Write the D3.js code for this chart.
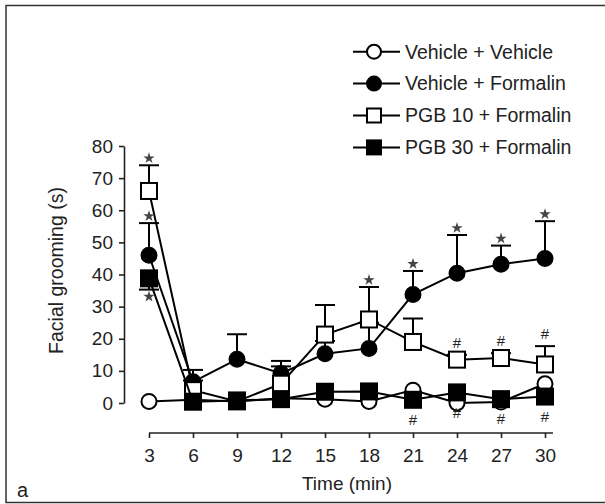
<!DOCTYPE html>
<html>
<head>
<meta charset="utf-8">
<script src="https://cdn.jsdelivr.net/npm/d3@7"></script>
<style>
  body { margin: 0; background: #fff; }
  text { font-family: "Liberation Sans", Arial, sans-serif; fill: #222; }
</style>
</head>
<body>
<div id="chart"></div>
<script>
// time points (min)
const times = [3, 6, 9, 12, 15, 18, 21, 24, 27, 30];
const yTicks = [0, 10, 20, 30, 40, 50, 60, 70, 80];

// mean facial grooming (s)
const vehVeh = [0.5, 1, 0.5, 1.5, 1.2, 0.5, 4, 0, 0.3, 6];
const vehForm = [46, 6.6, 13.6, 9.2, 15.3, 17, 33.8, 40.4, 43.2, 45];
const pgb10 = [66, 4, 0.5, 6, 21.3, 26, 19, 13.5, 14, 12];
const pgb30 = [38.8, 0.4, 0.8, 1.2, 3.5, 3.6, 1, 3.3, 1.2, 2];

// SEM
const vehVehErr = [0, 0, 0, 0, 0, 0, 0, 0, 0, 0];
const vehFormErr = [10, 3.7, 7.8, 3.9, 4, 8, 7.3, 11.9, 5.8, 11.6];
const pgb10Err = [8, 3, 0, 5.4, 9.2, 10.1, 7.3, 1.5, 1.5, 5.7];
const pgb30Err = [3.5, 0, 0, 0, 0, 0, 0, 0, 0, 0];

const legendLabels = ["Vehicle + Vehicle", "Vehicle + Formalin", "PGB 10 + Formalin", "PGB 30 + Formalin"];

// significance marks: [series index, time]
const starMarks = [[1, 3], [2, 3], [3, 3], [2, 18], [1, 21], [1, 24], [1, 27], [1, 30]];
const hashMarks = [[2, 24], [2, 27], [2, 30], [3, 21], [3, 24], [3, 27], [3, 30]];

const series = [
  { name: legendLabels[0], values: vehVeh, err: vehVehErr, shape: "circle", fill: "#fff", dir: 1 },
  { name: legendLabels[1], values: vehForm, err: vehFormErr, shape: "circle", fill: "#000", dir: 1 },
  { name: legendLabels[2], values: pgb10, err: pgb10Err, shape: "square", fill: "#fff", dir: 1 },
  { name: legendLabels[3], values: pgb30, err: pgb30Err, shape: "square", fill: "#000", dir: -1 }
];

const width = 605, height = 504;

const svg = d3.select("#chart").append("svg")
    .attr("width", width)
    .attr("height", height);

// frame
svg.append("rect")
    .attr("x", 6).attr("y", 5.5)
    .attr("width", 620).attr("height", 497)
    .attr("fill", "none")
    .attr("stroke", "#333")
    .attr("stroke-width", 1.5);

const x = d3.scaleLinear().domain([3, 30]).range([149, 545]);
const y = d3.scaleLinear().domain([0, 80]).range([403, 146]);

// y axis
const yAxis = svg.append("g")
    .attr("transform", "translate(124,0)")
    .call(d3.axisLeft(y).tickValues(yTicks).tickSize(5).tickSizeOuter(0).tickPadding(6));
yAxis.selectAll("text").style("font-size", "19px").attr("fill", "#222");
yAxis.selectAll("line, path").attr("stroke", "#222").attr("stroke-width", 1.6);

// x axis (line runs a bit past the last tick)
const xAxis = svg.append("g")
    .attr("transform", "translate(0,433)")
    .call(d3.axisBottom(x).tickValues(times).tickSize(5).tickSizeOuter(0).tickPadding(11));
xAxis.select(".domain").remove();
xAxis.append("line")
    .attr("x1", x(3)).attr("x2", x(30) + 8)
    .attr("stroke", "#222").attr("stroke-width", 1.6);
xAxis.selectAll("text").style("font-size", "19px").attr("fill", "#222");
xAxis.selectAll("line").attr("stroke", "#222").attr("stroke-width", 1.6);

svg.append("text")
    .attr("x", x(16.5)).attr("y", 490)
    .attr("text-anchor", "middle")
    .style("font-size", "19px")
    .text("Time (min)");

svg.append("text")
    .attr("transform", "translate(63," + (y(40) - 4) + ") rotate(-90)")
    .attr("text-anchor", "middle")
    .style("font-size", "19.5px")
    .text("Facial grooming (s)");

svg.append("text")
    .attr("x", 17).attr("y", 497)
    .style("font-size", "20px")
    .text("a");

function drawMarker(g, s, cx, cy, size) {
  if (s.shape === "circle") {
    g.append("circle")
        .attr("cx", cx).attr("cy", cy).attr("r", size / 2)
        .attr("fill", s.fill).attr("stroke", "#000").attr("stroke-width", 2);
  } else {
    g.append("rect")
        .attr("x", cx - size / 2).attr("y", cy - size / 2)
        .attr("width", size).attr("height", size)
        .attr("fill", s.fill).attr("stroke", "#000").attr("stroke-width", 2);
  }
}

const line = d3.line().x(d => x(d[0])).y(d => y(d[1]));

series.forEach(s => {
  const g = svg.append("g");
  const pts = times.map((t, i) => [t, s.values[i]]);

  // error bars
  times.forEach((t, i) => {
    if (!s.err[i]) return;
    const end = y(s.values[i] + s.dir * s.err[i]);
    g.append("line")
        .attr("x1", x(t)).attr("x2", x(t))
        .attr("y1", y(s.values[i])).attr("y2", end)
        .attr("stroke", "#000").attr("stroke-width", 2);
    g.append("line")
        .attr("x1", x(t) - 10).attr("x2", x(t) + 10)
        .attr("y1", end).attr("y2", end)
        .attr("stroke", "#000").attr("stroke-width", 2);
  });

  g.append("path")
      .datum(pts)
      .attr("d", line)
      .attr("fill", "none")
      .attr("stroke", "#000")
      .attr("stroke-width", 2);

  pts.forEach(p => drawMarker(g, s, x(p[0]), y(p[1]), s.shape === "circle" ? 15 : 16));
});

// stars at the end of the error bar
starMarks.forEach(([si, t]) => {
  const s = series[si], i = times.indexOf(t);
  const end = y(s.values[i] + s.dir * s.err[i]);
  svg.append("path")
      .attr("d", d3.symbol().type(d3.symbolStar).size(40))
      .attr("transform", "translate(" + x(t) + "," + (end - s.dir * 7) + ")")
      .attr("fill", "#444");
});

// hashes: above PGB 10, below PGB 30
hashMarks.forEach(([si, t]) => {
  const s = series[si], i = times.indexOf(t);
  const cy = s.dir > 0 ? y(s.values[i] + s.err[i]) - 12 : y(s.values[i]) + 20;
  svg.append("text")
      .attr("x", x(t)).attr("y", cy)
      .attr("dy", "0.35em")
      .attr("text-anchor", "middle")
      .style("font-size", "15px")
      .attr("fill", "#444")
      .text("#");
});

// legend
const legend = svg.append("g");
series.forEach((s, i) => {
  const cy = 51.7 + i * 31.9;
  legend.append("line")
      .attr("x1", 353).attr("x2", 400)
      .attr("y1", cy).attr("y2", cy)
      .attr("stroke", "#000").attr("stroke-width", 2);
  drawMarker(legend, s, 374, cy, 14);
  legend.append("text")
      .attr("x", 405).attr("y", cy)
      .attr("dy", "0.35em")
      .style("font-size", "19.5px")
      .text(s.name);
});
</script>
</body>
</html>
